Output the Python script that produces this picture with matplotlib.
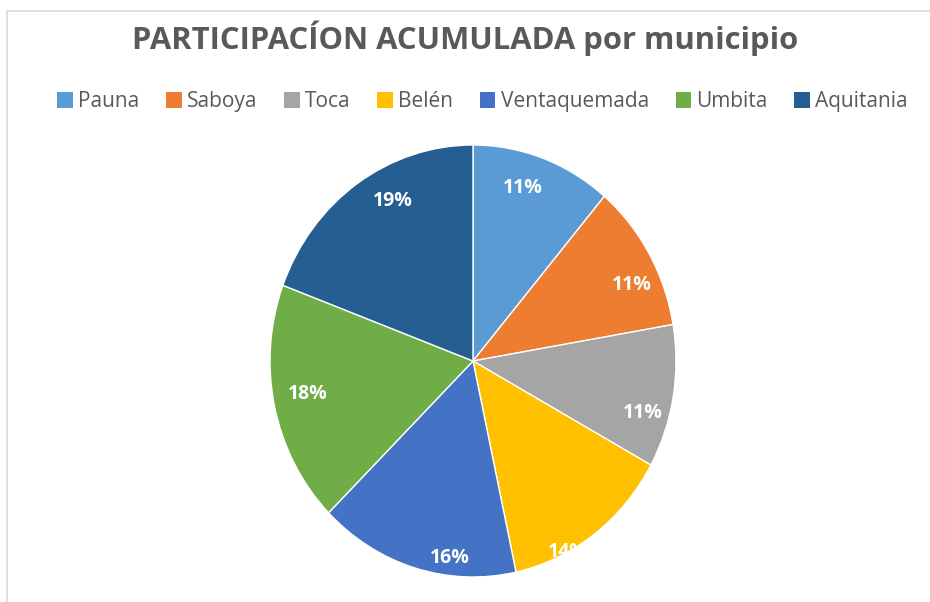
import numpy as np
import matplotlib.pyplot as plt
from matplotlib.patches import Rectangle

# --- datos ---
municipios = ['Pauna', 'Saboya', 'Toca', 'Belén', 'Ventaquemada', 'Umbita', 'Aquitania']
participacion = [11.2, 11.1, 10.7, 13.6, 16.0, 18.1, 19.3]
colores = ['#5B9BD5', '#ED7D31', '#A5A5A5', '#FFC000', '#4472C4', '#70AD47', '#255E91']
# posición de cada etiqueta (como la pone Excel): distancia radial y giro respecto al centro de la porción
dist_etiqueta = [0.84, 0.86, 0.87, 1.0, 0.92, 0.83, 0.84]
giro_etiqueta = [-3, 5.5, 6.5, 9, -9.5, 1.5, 6.5]

plt.rcParams['font.family'] = ['Open Sans', 'DejaVu Sans']
gris_texto = '#595959'

fig = plt.figure(figsize=(9.3, 6.02), dpi=100)

# borde del área del gráfico (se sale por la derecha y por abajo)
fig.patches.append(Rectangle((7 / 930, -0.1), 1.2, 1.1 - 11 / 602, transform=fig.transFigure,
                             fill=False, edgecolor='#D9D9D9', linewidth=1.2))

# --- pastel ---
ax = fig.add_axes([270 / 930, 25 / 602, 406 / 930, 432 / 602])
wedges, _ = ax.pie(participacion, colors=colores, startangle=90, counterclock=False,
                   wedgeprops=dict(edgecolor='white', linewidth=1))
ax.set_aspect('auto')
ax.set_xlim(-1, 1)
ax.set_ylim(-1, 1)

total = sum(participacion)
for w, v, d, g in zip(wedges, participacion, dist_etiqueta, giro_etiqueta):
    ang = np.deg2rad((w.theta1 + w.theta2) / 2 - g)
    ax.text(d * np.cos(ang), d * np.sin(ang), f'{v / total * 100:.0f}%',
            ha='center', va='center', color='white', fontsize=14, fontweight='bold')

# --- título y leyenda ---
fig.text(0.5, 0.936, 'PARTICIPACÍON ACUMULADA por municipio', ha='center', va='center',
         fontsize=22.3, fontweight='bold', color=gris_texto)

# cuadros de la leyenda sin el borde blanco de las porciones
cuadros = [Rectangle((0, 0), 1, 1, facecolor=c, edgecolor='none') for c in colores]
leg = fig.legend(cuadros, municipios, loc='center', bbox_to_anchor=(0.519, 0.831), ncol=7,
                 frameon=False, fontsize=15, handlelength=0.75, handleheight=0.75,
                 handletextpad=0.25, columnspacing=1.28)
for t in leg.get_texts():
    t.set_color(gris_texto)

fig.savefig('out.png', dpi=100)
